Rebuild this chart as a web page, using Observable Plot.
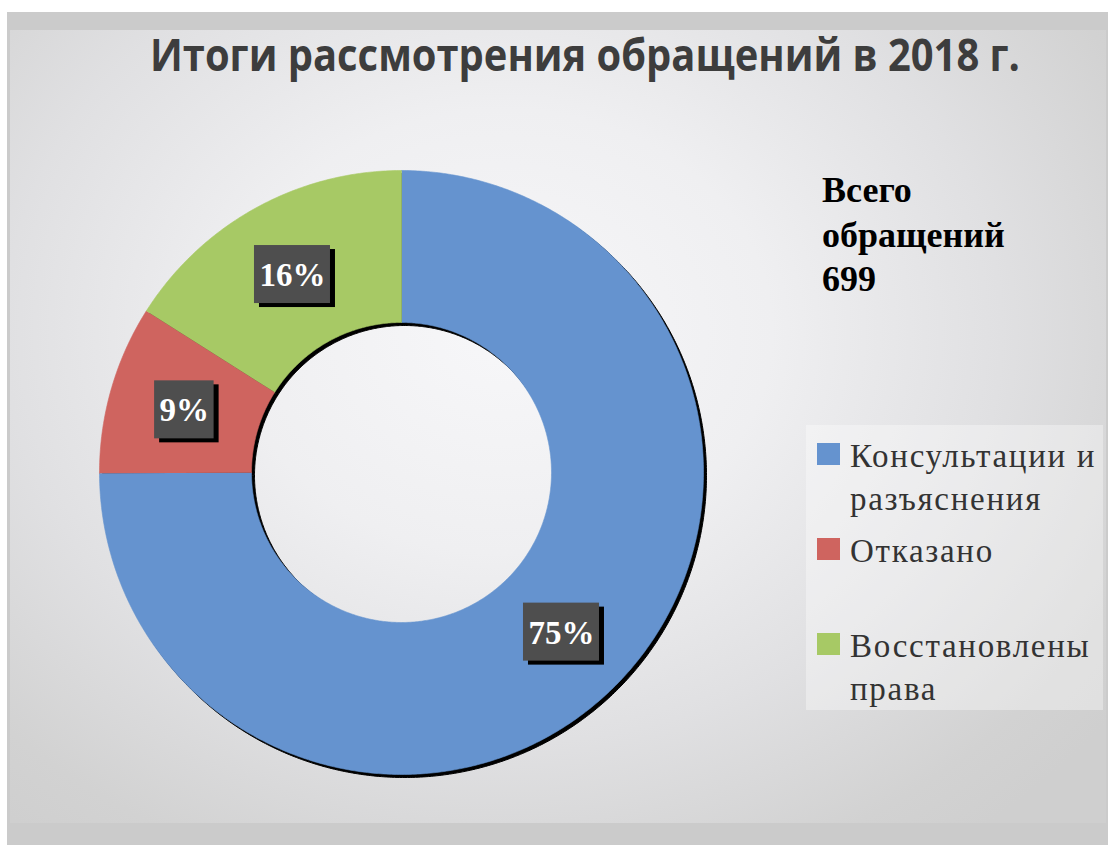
<!DOCTYPE html>
<html>
<head>
<meta charset="utf-8">
<script src="https://cdn.jsdelivr.net/npm/d3@7"></script>
<script src="https://cdn.jsdelivr.net/npm/@observablehq/plot@0.6"></script>
<style>
  html, body { margin: 0; padding: 0; }
  body { width: 1108px; height: 845px; overflow: hidden; position: relative; background: #ffffff; font-family: "Liberation Serif", "Times New Roman", serif; }
  #frame { position: absolute; left: 7px; top: 12px; width: 1101px; height: 833px; background: #cbcbcb; }
  #bg { position: absolute; left: 10px; top: 30px; width: 1096px; height: 793px;
        background: radial-gradient(ellipse 70% 80% at 45% 38%, #f7f7f9 0%, #efeff1 35%, #e0e0e2 65%, #d2d2d2 90%, #cfcfcf 100%); }
  #title { position: absolute; top: 31px; left: 585px; white-space: nowrap; font-family: "Open Sans", "DejaVu Sans", sans-serif;
           font-weight: 700; font-size: 45px; line-height: 45px; color: #3d3d3d; transform-origin: 0 0; }
  #total { position: absolute; left: 822px; top: 168px; font-family: "Liberation Serif", serif; font-weight: 700; font-size: 36px;
           line-height: 44.5px; color: #000; }
  #legendbox { position: absolute; left: 806px; top: 425px; width: 297px; height: 285px; background: rgba(255,255,255,0.35); }
  .sw { position: absolute; left: 817px; width: 23px; height: 22px; }
  .lt { position: absolute; left: 850px; font-family: "Liberation Serif", serif; font-size: 33px; line-height: 43px; letter-spacing: 1.7px; color: #333; white-space: nowrap; }
  #plot { position: absolute; left: 0; top: 0; }
</style>
</head>
<body>
<div id="frame"></div>
<div id="bg"></div>
<div id="legendbox"></div>
<div id="plot"></div>
<div id="title"></div>
<div id="total"></div>
<div id="legend"></div>
<script>
// ---- data ----
const titleText = "Итоги рассмотрения обращений в 2018 г.";
const totalLabel = ["Всего", "обращений"];
const names = ["Консультации и разъяснения", "Отказано", "Восстановлены права"];
const legendLines = [["Консультации и", "разъяснения"], ["Отказано"], ["Восстановлены", "права"]];
const values = [524, 63, 112];
const pctLabels = ["75%", "9%", "16%"];
const colors = ["#6593cf", "#cf645f", "#a7c965"];

// ---- derived ----
const total = d3.sum(values);
const innerRatio = 150 / 302;
const pts = [];
const labs = [];
let cum = 0;
values.forEach((v, k) => {
  const a0 = cum / total * 2 * Math.PI;
  cum += v;
  const a1 = cum / total * 2 * Math.PI;
  const n = Math.max(4, Math.ceil((a1 - a0) / (Math.PI / 360)));
  for (let j = 0; j <= n; j++) {
    const a = a0 + (a1 - a0) * j / n;
    pts.push({name: names[k], x: Math.sin(a), y: Math.cos(a)});
  }
  for (let j = n; j >= 0; j--) {
    const a = a0 + (a1 - a0) * j / n;
    pts.push({name: names[k], x: innerRatio * Math.sin(a), y: innerRatio * Math.cos(a)});
  }
  const am = (a0 + a1) / 2, rm = (1 + innerRatio) / 2;
  labs.push({name: names[k], label: pctLabels[k], x: rm * Math.sin(am), y: rm * Math.cos(am)});
});

// label box sizes (pixels -> data units)
const R = 302;
const cv = document.createElement("canvas").getContext("2d");
cv.font = "bold 33px 'Liberation Serif'";
const boxW = d => (cv.measureText(d.label).width + 10) / 2 / R;
const boxH = 29 / R;

const chart = Plot.plot({
  width: 1108,
  height: 845,
  margin: 0,
  x: {domain: [-1, 1], range: [401 - R, 401 + R], axis: null},
  y: {domain: [-1, 1], range: [472 + R, 472 - R], axis: null},
  color: {domain: names, range: colors},
  style: {background: "transparent", overflow: "visible"},
  marks: [
    Plot.line(pts, {x: "x", y: "y", z: "name", fill: "#000", stroke: "#000", strokeWidth: 1, dx: 3, dy: 3, curve: "linear"}),
    Plot.line(pts, {x: "x", y: "y", z: "name", fill: "name", stroke: "name", strokeWidth: 0.6, curve: "linear"}),
    Plot.rect(labs, {x1: d => d.x - boxW(d), x2: d => d.x + boxW(d), y1: d => d.y - boxH, y2: d => d.y + boxH, fill: "#000", dx: 5, dy: 4}),
    Plot.rect(labs, {x1: d => d.x - boxW(d), x2: d => d.x + boxW(d), y1: d => d.y - boxH, y2: d => d.y + boxH, fill: "#4e4e4e"}),
    Plot.text(labs, {x: "x", y: "y", text: "label", fill: "#fff", fontSize: 33, fontWeight: "bold", fontFamily: "Liberation Serif", dy: 1})
  ]
});
document.getElementById("plot").appendChild(chart);

// title
const t = document.getElementById("title");
t.textContent = titleText;
const tw = t.getBoundingClientRect().width;
const k = 870 / tw;
t.style.transform = `scaleX(${k}) translateX(${-tw / 2}px)`;

// total
document.getElementById("total").innerHTML = totalLabel.join("<br>") + "<br>" + total;

// legend
const lg = document.getElementById("legend");
names.forEach((n, i) => {
  const top = 443 + i * 95;
  const sw = document.createElement("div");
  sw.className = "sw";
  sw.style.top = top + "px";
  sw.style.background = colors[i];
  lg.appendChild(sw);
  const tx = document.createElement("div");
  tx.className = "lt";
  tx.style.top = (top - 8) + "px";
  tx.innerHTML = legendLines[i].join("<br>");
  lg.appendChild(tx);
});
</script>
</body>
</html>
